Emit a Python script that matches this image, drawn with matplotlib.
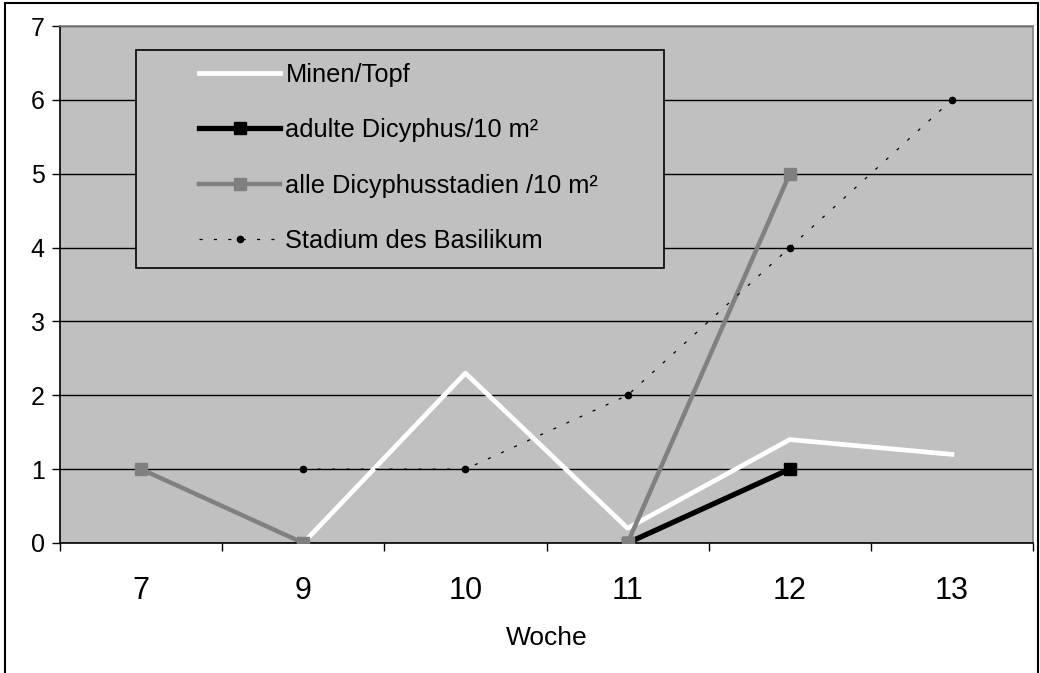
import numpy as np
import matplotlib.pyplot as plt
from matplotlib.patches import Rectangle

plt.rcParams['font.family'] = ['Liberation Sans', 'DejaVu Sans']

wochen = ['7', '9', '10', '11', '12', '13']
minen_topf = [np.nan, 0.0, 2.3, 0.2, 1.4, 1.2]
adulte_dicyphus = [np.nan, np.nan, np.nan, 0.0, 1.0, np.nan]
alle_stadien = [1.0, 0.0, np.nan, 0.0, 5.0, np.nan]
stadium_basilikum = [np.nan, 1.0, 1.0, 2.0, 4.0, 6.0]

W, H = 1040, 673
fig = plt.figure(figsize=(W / 100, H / 100), dpi=100)
fig.patch.set_facecolor('white')

# plot area in pixel units
px_l, px_r, px_t, px_b = 60, 1033, 26, 543
ax = fig.add_axes([px_l / W, 1 - px_b / H, (px_r - px_l) / W, (px_b - px_t) / H])
ax.set_facecolor('#C0C0C0')

x = np.arange(len(wochen))

ax.plot(x, minen_topf, color='white', lw=3.4, label='Minen/Topf', zorder=3)
ax.plot(x, adulte_dicyphus, color='black', lw=3.8, marker='s', ms=8,
        label='adulte Dicyphus/10 m²', zorder=4)
ax.plot(x, stadium_basilikum, color='black', lw=0.9, ls=(0, (2.5, 9)),
        marker='o', ms=4.5, label='Stadium des Basilikum', zorder=6)
ax.plot(x, alle_stadien, color='#808080', lw=3.2, marker='s', ms=8,
        label='alle Dicyphusstadien /10 m²', zorder=5)

ax.set_xlim(-0.5, len(wochen) - 0.5)
ax.set_ylim(0, 7)
ax.set_yticks(range(8))
ax.yaxis.grid(True, color='black', lw=1.0)
ax.set_axisbelow(True)

ax.set_xticks(x)
ax.set_xticklabels(wochen, fontsize=22)
ax.set_xticks(np.arange(len(wochen) + 1) - 0.5, minor=True)
ax.tick_params(axis='x', which='major', length=0, pad=24)
ax.tick_params(axis='x', which='minor', length=6, width=1, direction='out')
ax.tick_params(axis='y', length=6, width=1, direction='out', labelsize=18, pad=5)

ax.set_xlabel('Woche', fontsize=19, labelpad=14)

for side in ['left', 'bottom']:
    ax.spines[side].set_color('black')
    ax.spines[side].set_linewidth(1.2)
for side in ['top', 'right']:
    ax.spines[side].set_color('#808080')
    ax.spines[side].set_linewidth(1.2)

# legend box
box = Rectangle((136 / W, 1 - 268 / H), (664 - 136) / W, (268 - 50) / H,
                transform=fig.transFigure, facecolor='#C0C0C0',
                edgecolor='black', lw=1.2, zorder=7)
ax.add_patch(box)
handles, labels = ax.get_legend_handles_labels()
order = [0, 1, 3, 2]
leg = ax.legend([handles[i] for i in order], [labels[i] for i in order],
                loc='upper left', bbox_to_anchor=(199 / W, 1 - 63 / H),
                bbox_transform=fig.transFigure, frameon=False, fontsize=18.3,
                borderpad=0, borderaxespad=0, handlelength=3.2,
                handletextpad=0.2, labelspacing=1.23)
leg.set_zorder(8)

# outer frame
fig.add_artist(Rectangle((5 / W, -0.05), (1038 - 5) / W, 1.05 - 3 / H,
                         transform=fig.transFigure, fill=False,
                         edgecolor='black', lw=1.5))

fig.savefig('out.png', dpi=100)
